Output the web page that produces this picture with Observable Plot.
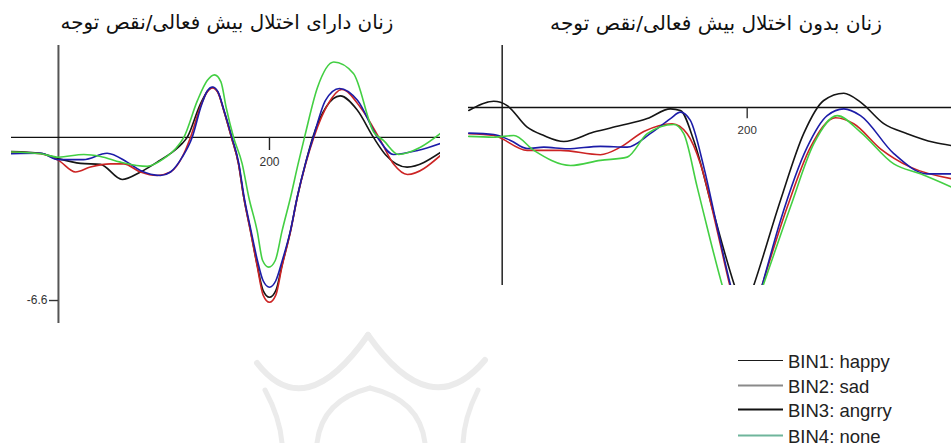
<!DOCTYPE html>
<html>
<head>
<meta charset="utf-8">
<script src="https://cdn.jsdelivr.net/npm/d3@7"></script>
<script src="https://cdn.jsdelivr.net/npm/@observablehq/plot@0.6"></script>
<style>
  html, body { margin: 0; padding: 0; background: #fff; }
  #root { position: relative; width: 951px; height: 443px; overflow: hidden; background: #fff;
          font-family: "Liberation Sans", Arial, sans-serif; }
  .panel { position: absolute; top: 0; }
  .title { position: absolute; top: 13px; font-family: "DejaVu Sans", sans-serif; direction: rtl;
           white-space: nowrap; color: #111; line-height: 1; font-size: 18px; transform: translateX(-50%); }
  .legend { position: absolute; left: 738px; top: 0; }
  .legrow { position: absolute; left: 0; white-space: nowrap; height: 24px; }
  .legrow svg { position: absolute; left: 0; top: 0; }
  .legrow span { position: absolute; left: 50px; top: 0; font-size: 18.5px; line-height: 24px; color: #222; }
  #wm { position: absolute; left: 0; top: 0; }
</style>
</head>
<body>
<div id="root">
  <svg id="wm" width="951" height="443"></svg>
  <div id="leftPanel" class="panel" style="left:0px"></div>
  <div id="rightPanel" class="panel" style="left:460px"></div>
  <div id="titleLeft" class="title" style="left:227px"></div>
  <div id="titleRight" class="title" style="left:716px"></div>
  <div id="legend" class="legend"></div>
</div>
<script>
// ---------- data ----------
const titles = ["زنان دارای اختلال بیش فعالی/نقص توجه", "زنان بدون اختلال بیش فعالی/نقص توجه"];
const bins = ["BIN1: happy", "BIN2: sad", "BIN3: angrry", "BIN4: none"];
const curveColors = ["#151515", "#cc2424", "#1c1ca8", "#43cf43"];
const legendColors = ["#1a1a1a", "#8a8a8a", "#111111", "#6fb59b"];
const legendWidths = [1.2, 2, 2.2, 2];

const xTicks = [200];
const leftYTicks = [-6.6];

// ADHD group (left), [time ms, amplitude µV]
const adhdHappy = [[-44.5,-0.57],[-17,-0.64],[0,-0.86],[20.9,-1.05],[39.8,-1.09],[60.4,-1.70],[77.7,-1.40],[93.6,-1.00],[106.2,-0.65],[117.3,-0.24],[122,0],[134,1.30],[141,1.86],[146,2.02],[151,1.84],[156.7,1.09],[164,0],[170.6,-1.06],[175.6,-2.42],[182,-3.77],[188.3,-5.15],[194,-6.2],[200,-6.47],[206,-6.2],[212,-5.15],[220,-3.77],[226.3,-2.42],[234.1,-1.06],[241,0],[254,1.25],[267,1.68],[283,1.12],[298.6,0],[310,-0.70],[330.5,-1.20],[362.1,-0.61]];
const adhdSad = [[-44.5,-0.60],[-17,-0.66],[0,-0.93],[16.1,-1.40],[30.3,-1.20],[49.3,-1.07],[61.9,-1.07],[77.7,-1.40],[93.6,-1.54],[106.2,-1.40],[118.8,-0.66],[125.1,0],[135,1.30],[141,1.84],[146,2.00],[151,1.82],[156.7,1.09],[164,0],[170.6,-1.06],[175.6,-2.42],[182,-3.80],[188.3,-5.20],[194,-6.38],[200,-6.67],[206,-6.38],[212,-5.20],[220,-3.80],[226.3,-2.45],[234.1,-1.10],[242,0],[255.9,1.38],[268.5,1.94],[286.3,1.21],[305.2,-0.12],[318,-1.10],[330.8,-1.50],[362.1,-0.73]];
const adhdAngry = [[-44.5,-0.66],[-17,-0.64],[0,-0.90],[23.7,-0.90],[46.1,-0.64],[65.1,-1.00],[77.7,-1.34],[96.7,-1.54],[106.2,-1.40],[117.3,-0.80],[126.7,0],[135.5,1.30],[141,1.88],[146,2.04],[151,1.86],[157,1.09],[164.5,0],[171,-1.06],[176,-2.42],[182.4,-3.75],[188.7,-5.00],[194,-5.80],[200,-6.06],[206,-5.80],[212,-5.00],[220,-3.75],[226.3,-2.42],[234.1,-1.06],[241.5,0],[253.1,1.50],[266.4,1.98],[283.4,1.50],[302.4,0],[317.5,-0.69],[340.3,-0.53],[362.1,-0.24]];
const adhdNone = [[-44.5,-0.59],[-17,-0.66],[0,-0.80],[24,-0.69],[39.8,-0.77],[58.8,-1.00],[84.1,-1.17],[99.8,-0.86],[110.9,-0.46],[118.8,0],[131.8,1.50],[141,2.30],[147.9,2.53],[154,2.25],[159,1.20],[166,0],[174.1,-1.06],[180.4,-2.42],[188.3,-3.77],[193.5,-4.98],[199.3,-5.25],[205.5,-4.98],[212,-3.77],[220,-2.42],[227.2,-1.06],[233.2,0],[245.5,2.02],[260.9,3.05],[279.6,2.59],[299,0.20],[308,-0.12],[322.3,-0.69],[343.1,-0.40],[362.1,0.16]];

// Control group (right), [time ms, amplitude µV]
const ctrlHappy = [[-27.3,-0.11],[-6.9,0.23],[4.1,0.07],[20.4,-0.73],[34,-1.04],[50.3,-1.26],[74.8,-0.91],[96.6,-0.67],[118.4,-0.41],[137.4,-0.05],[145.5,-0.11],[156.4,-1.22],[172.7,-3.93],[189.6,-6.59],[197.5,-7.6],[205.4,-6.59],[227.2,-3.44],[246.2,-0.96],[262.5,0.26],[278.9,0.53],[292.5,0.20],[311.5,-0.60],[330.6,-0.97],[352.3,-1.29],[366.8,-1.41]];
const ctrlSad = [[-27.3,-0.97],[-6.9,-1.04],[20.4,-1.59],[47.6,-1.59],[80.2,-1.75],[96.6,-1.47],[115.6,-0.89],[138.8,-0.60],[151,-0.97],[161.9,-2.09],[175.5,-4.56],[185.8,-6.59],[199,-8.6],[212.2,-6.59],[232.7,-3.69],[251.7,-1.47],[272.1,-0.38],[287,-0.60],[308.8,-1.53],[333.3,-2.21],[366.8,-2.64]];
const ctrlAngry = [[-27.3,-0.95],[-6.9,-1.00],[6.8,-1.22],[20.4,-1.52],[34,-1.47],[53.1,-1.53],[80.2,-1.44],[102,-1.47],[121.1,-0.96],[137.4,-0.41],[145.5,-0.17],[153.6,-0.48],[164.6,-2.21],[175.5,-4.43],[186.4,-6.59],[199.3,-8.6],[212.2,-6.59],[227.2,-4.19],[249,-1.47],[265.3,-0.30],[278.9,-0.05],[292.5,-0.30],[319.7,-1.71],[346.9,-2.46],[366.8,-2.46]];
const ctrlNone = [[-27.3,-1.07],[-6.9,-1.10],[9.5,-1.04],[25.8,-1.59],[55.8,-2.15],[80.2,-1.96],[102,-1.84],[118.4,-0.97],[140.1,-0.63],[148.2,-0.97],[159.2,-2.95],[170,-4.93],[179.6,-6.59],[196,-8.8],[213.1,-6.59],[235.3,-3.69],[254.4,-1.34],[273.5,-0.30],[292.5,-0.91],[319.7,-2.09],[341.4,-2.46],[366.8,-2.95]];

// ---------- build rows ----------
function rows(seriesList) {
  const out = [];
  seriesList.forEach((s, i) => s.forEach(([t, v]) => out.push({bin: bins[i], t, v})));
  return out;
}
const leftRows = rows([adhdHappy, adhdSad, adhdAngry, adhdNone]);
const rightRows = rows([ctrlHappy, ctrlSad, ctrlAngry, ctrlNone]);

const font = {fontFamily: "'Liberation Sans', Arial, sans-serif", background: "transparent", overflow: "visible"};

const left = Plot.plot({
  width: 460, height: 330,
  marginLeft: 11, marginRight: 20, marginTop: 45, marginBottom: 7,
  style: font,
  x: {domain: [-44.5, 362.1], axis: null},
  y: {domain: [-7.53, 3.72], axis: null},
  color: {domain: bins, range: curveColors},
  marks: [
    Plot.ruleX([0], {stroke: "#555", strokeWidth: 2}),
    Plot.ruleY([0], {stroke: "#111", strokeWidth: 1.3}),
    Plot.ruleX(xTicks, {y1: 0, y2: -0.53, stroke: "#222", strokeWidth: 1.4}),
    Plot.text(xTicks, {x: d => d, y: 0, dy: 25, text: d => String(d), fontSize: 12, fill: "#333"}),
    Plot.ruleY(leftYTicks, {x1: -8.5, x2: 0, stroke: "#333", strokeWidth: 1.4}),
    Plot.text(leftYTicks, {x: -8.5, y: d => d, dx: -2, textAnchor: "end", text: d => String(d), fontSize: 12, fill: "#333"}),
    Plot.line(leftRows, {x: "t", y: "v", z: "bin", stroke: "bin", curve: "monotone-x", strokeWidth: 1.6, clip: true})
  ]
});
document.getElementById("leftPanel").appendChild(left);

const right = Plot.plot({
  width: 491, height: 300,
  marginLeft: 8, marginRight: 0, marginTop: 45, marginBottom: 15,
  style: font,
  x: {domain: [-27.5, 366.8], axis: null},
  y: {domain: [-6.6, 2.3], axis: null},
  color: {domain: bins, range: curveColors},
  marks: [
    Plot.ruleX([0], {stroke: "#222", strokeWidth: 1.5}),
    Plot.ruleY([0], {stroke: "#111", strokeWidth: 1.4}),
    Plot.ruleX(xTicks, {y1: 0, y2: -0.42, stroke: "#222", strokeWidth: 1.3}),
    Plot.text(xTicks, {x: d => d, y: 0, dy: 23, text: d => String(d), fontSize: 11.5, fill: "#333"}),
    Plot.line(rightRows, {x: "t", y: "v", z: "bin", stroke: "bin", curve: "monotone-x", strokeWidth: 1.6, clip: true})
  ]
});
document.getElementById("rightPanel").appendChild(right);

// ---------- titles (fit to reference width) ----------
function setTitle(id, text, targetWidth) {
  const el = document.getElementById(id);
  el.textContent = text;
  const w = el.getBoundingClientRect().width;
  if (w > 0) el.style.fontSize = (18 * targetWidth / w).toFixed(2) + "px";
}
setTitle("titleLeft", titles[0], 333);
setTitle("titleRight", titles[1], 332);

// ---------- legend ----------
const legendTops = [349.5, 374.5, 398.5, 424.5];
const leg = document.getElementById("legend");
bins.forEach((b, i) => {
  const row = document.createElement("div");
  row.className = "legrow";
  row.style.top = legendTops[i] + "px";
  row.innerHTML = `<svg width="46" height="24"><line x1="0" x2="45" y1="10.5" y2="10.5" stroke="${legendColors[i]}" stroke-width="${legendWidths[i]}"/></svg><span>${b}</span>`;
  leg.appendChild(row);
});

// ---------- faint watermark ornament ----------
const wm = d3.select("#wm").append("g").attr("fill", "none").attr("stroke", "#ebebeb").attr("stroke-linecap", "round");
[
  ["M257,363 Q305,425 368,335", 6],
  ["M368,335 Q431,425 485,360", 6],
  ["M265,390 Q280,418 282,443", 5],
  ["M478,390 Q464,418 463,443", 5],
  ["M317,443 Q322,400 370,388", 5],
  ["M425,443 Q420,400 370,388", 5]
].forEach(([d, w]) => wm.append("path").attr("d", d).attr("stroke-width", w));
</script>
</body>
</html>
